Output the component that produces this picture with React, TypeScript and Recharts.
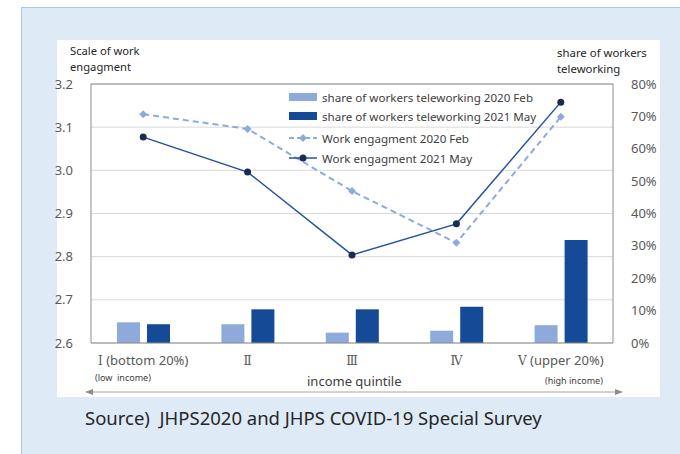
import { Bar, CartesianGrid, ComposedChart, Line, ReferenceLine, XAxis, YAxis } from "recharts";

const quintiles = ["Ⅰ(bottom 20%)", "Ⅱ", "Ⅲ", "Ⅳ", "Ⅴ(upper 20%)"];
const tele2020Feb = [6.4, 5.8, 3.2, 3.8, 5.5];
const tele2021May = [5.8, 10.4, 10.4, 11.2, 31.8];
const engage2020Feb = [3.13, 3.096, 2.952, 2.832, 3.124];
const engage2021May = [3.077, 2.996, 2.804, 2.876, 3.158];
const leftTicks = [2.6, 2.7, 2.8, 2.9, 3.0, 3.1, 3.2];
const rightTicks = [0, 10, 20, 30, 40, 50, 60, 70, 80];

const LIGHT = "#8eaadb";
const DARK = "#154a96";
const LINE_DARK = "#2452a0";
const DOT_DARK = "#1c2b4f";
const FONT = "'Noto Sans', sans-serif";

const data = quintiles.map((q, i) => ({
  q,
  feb: tele2020Feb[i],
  may: tele2021May[i],
  engFeb: engage2020Feb[i],
  engMay: engage2021May[i],
}));

const legendItems = [
  { label: "share of workers teleworking 2020 Feb", kind: "bar", color: LIGHT },
  { label: "share of workers teleworking 2021 May", kind: "bar", color: DARK },
  { label: "Work engagment 2020 Feb", kind: "dash", color: LIGHT },
  { label: "Work engagment 2021 May", kind: "solid", color: LINE_DARK },
];

function Diamond(props: any) {
  const { cx, cy } = props;
  if (cx == null || cy == null) return null;
  const r = 4;
  return <polygon points={`${cx},${cy - r} ${cx + r},${cy} ${cx},${cy + r} ${cx - r},${cy}`} fill={LIGHT} />;
}

function QuintileTick(props: any) {
  const { x, y, payload } = props;
  const label: string = payload.value;
  const num = label.charAt(0);
  const rest = label.slice(1);
  return (
    <text x={x} y={y + 14} textAnchor="middle" fontSize={13} fill="#595959" fontFamily={FONT}>
      <tspan fontFamily="'DejaVu Serif', serif" fontSize={12}>{num}</tspan>
      {rest && <tspan>{" " + rest}</tspan>}
    </text>
  );
}

function LegendBox() {
  const rows = [97, 116, 138, 158];
  return (
    <div style={{ position: "absolute", left: 289, top: 89, width: 260, height: 80, fontFamily: FONT, fontSize: 11.6, color: "#404040" }}>
      {legendItems.map((it, i) => (
        <div key={it.label} style={{ position: "absolute", left: 0, top: rows[i] - 97, height: 16, display: "flex", alignItems: "center", whiteSpace: "nowrap" }}>
          <svg width={30} height={12} style={{ marginRight: 3 }}>
            {it.kind === "bar" && <rect x={0} y={2} width={28} height={8} fill={it.color} />}
            {it.kind === "dash" && (
              <>
                <line x1={0} y1={6} x2={28} y2={6} stroke={it.color} strokeWidth={2} strokeDasharray="5 3" />
                <polygon points="14,2 18,6 14,10 10,6" fill={it.color} />
              </>
            )}
            {it.kind === "solid" && (
              <>
                <line x1={0} y1={6} x2={28} y2={6} stroke={it.color} strokeWidth={1.5} />
                <circle cx={14} cy={6} r={3.5} fill={DOT_DARK} />
              </>
            )}
          </svg>
          <span>{it.label}</span>
        </div>
      ))}
    </div>
  );
}

const abs = (left: number, top: number, extra: any = {}) => ({
  position: "absolute" as const,
  left,
  top,
  fontFamily: FONT,
  whiteSpace: "nowrap" as const,
  lineHeight: 1,
  ...extra,
});

export default function App() {
  return (
    <div style={{ position: "absolute", left: 0, top: 0, width: 680, height: 454, background: "#fff", overflow: "hidden" }}>
      <div style={{ position: "absolute", left: 21, top: 7, width: 659, height: 447, background: "#deebf7", borderTop: "1px solid #a9c8e8", borderLeft: "1px solid #a9c8e8" }} />
      <div style={{ position: "absolute", left: 57, top: 40, width: 603, height: 357, background: "#fff" }} />

      <div style={abs(70, 45, { fontSize: 11.2, color: "#262626" })}>Scale of work</div>
      <div style={abs(70, 61, { fontSize: 11.2, color: "#262626" })}>engagment</div>
      <div style={abs(557, 47, { fontSize: 11.4, color: "#262626" })}>share of workers</div>
      <div style={abs(557, 63, { fontSize: 11.4, color: "#262626" })}>teleworking</div>

      <div style={{ position: "absolute", left: 0, top: 0 }}>
        <ComposedChart
          width={680}
          height={454}
          data={data}
          margin={{ top: 84, right: 17, bottom: 71, left: 51 }}
          barSize={23}
          barGap={7}
        >
          <CartesianGrid vertical={false} stroke="#d9d9d9" yAxisId="left" />
          <XAxis dataKey="q" tick={<QuintileTick />} tickLine={false} axisLine={{ stroke: "#8c8c8c" }} height={40} interval={0} />
          <YAxis
            yAxisId="left"
            orientation="left"
            domain={[2.6, 3.2]}
            ticks={leftTicks}
            tickFormatter={(v: number) => v.toFixed(1)}
            tick={{ fontSize: 13, fill: "#595959", fontFamily: FONT }}
            tickLine={false}
            axisLine={{ stroke: "#8c8c8c" }}
            tickMargin={12}
            width={40}
            allowDataOverflow
          />
          <YAxis
            yAxisId="right"
            orientation="right"
            domain={[0, 80]}
            ticks={rightTicks}
            tickFormatter={(v: number) => `${v}%`}
            tick={{ fontSize: 13, fill: "#595959", fontFamily: FONT, textAnchor: "start" }}
            tickLine={false}
            axisLine={{ stroke: "#8c8c8c" }}
            tickMargin={12}
            width={50}
          />
          <ReferenceLine yAxisId="left" y={3.2} stroke="#8c8c8c" />
          <Bar yAxisId="right" dataKey="feb" fill={LIGHT} isAnimationActive={false} />
          <Bar yAxisId="right" dataKey="may" fill={DARK} isAnimationActive={false} />
          <Line
            yAxisId="left"
            dataKey="engFeb"
            stroke={LIGHT}
            strokeWidth={2}
            strokeDasharray="6 4"
            dot={<Diamond />}
            type="linear"
            isAnimationActive={false}
          />
          <Line
            yAxisId="left"
            dataKey="engMay"
            stroke={LINE_DARK}
            strokeWidth={1.5}
            dot={{ r: 3.5, fill: DOT_DARK, stroke: DOT_DARK, strokeWidth: 0 }}
            type="linear"
            isAnimationActive={false}
          />
        </ComposedChart>
      </div>

      <LegendBox />

      <div style={abs(95, 373, { fontSize: 9, color: "#404040" })}>(low&nbsp; income)</div>
      <div style={abs(307, 375, { fontSize: 13, color: "#404040" })}>income quintile</div>
      <div style={abs(545, 376, { fontSize: 9, color: "#404040" })}>(high income)</div>
      <svg style={{ position: "absolute", left: 0, top: 0 }} width={680} height={454}>
        <line x1={90} y1={392} x2={618} y2={392} stroke="#a6a6a6" strokeWidth={1} />
        <polygon points="85,392 93,389 93,395" fill="#8c8c8c" />
        <polygon points="623,392 615,389 615,395" fill="#8c8c8c" />
      </svg>
      <div style={abs(85, 409, { fontSize: 18.5, color: "#262626" })}>Source)&nbsp; JHPS2020 and JHPS COVID-19 Special Survey</div>
    </div>
  );
}
